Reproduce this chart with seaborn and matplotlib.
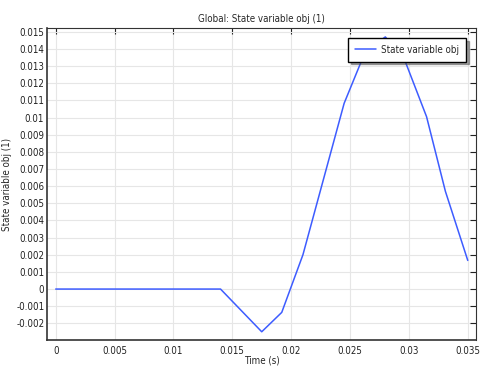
import matplotlib
matplotlib.use("Agg")
import matplotlib.pyplot as plt
import seaborn as sns
import pandas as pd
import numpy as np

time_s = [0.0, 0.014, 0.0175, 0.0192, 0.021, 0.0245, 0.0263, 0.028, 0.0297, 0.0315, 0.0331, 0.035]
obj = [0.0, 0.0, -0.00249, -0.00136, 0.0020, 0.01083, 0.01385, 0.0147, 0.01325, 0.01005, 0.0057, 0.00167]
x_ticks = [0, 0.005, 0.01, 0.015, 0.02, 0.025, 0.03, 0.035]
x_tick_labels = ["0", "0.005", "0.01", "0.015", "0.02", "0.025", "0.03", "0.035"]
y_ticks = [-0.002, -0.001, 0, 0.001, 0.002, 0.003, 0.004, 0.005, 0.006, 0.007, 0.008,
           0.009, 0.01, 0.011, 0.012, 0.013, 0.014, 0.015]
y_tick_labels = ["-0.002", "-0.001", "0", "0.001", "0.002", "0.003", "0.004", "0.005", "0.006",
                 "0.007", "0.008", "0.009", "0.01", "0.011", "0.012", "0.013", "0.014", "0.015"]

sns.set_style("whitegrid")
plt.rcParams['font.family'] = ['DejaVu Sans']
plt.rcParams['font.stretch'] = 'condensed'

df = pd.DataFrame({"Time (s)": time_s, "State variable obj": obj})

fig = plt.figure(figsize=(4.85, 3.67), dpi=100)
ax = fig.add_axes([47/485, 1-340/367, (476-47)/485, (340-28)/367])

sns.lineplot(data=df, x="Time (s)", y="State variable obj", ax=ax, color="#3d5cff",
             linewidth=1.1, label="State variable obj", sort=False)

ax.set_xlim(-0.00074, 0.0357)
ax.set_ylim(-0.00297, 0.01522)
ax.set_xticks(x_ticks)
ax.set_xticklabels(x_tick_labels)
ax.set_yticks(y_ticks)
ax.set_yticklabels(y_tick_labels)

ax.grid(True, color="#e6e6e6", linewidth=0.8)
for side in ["left", "bottom", "top", "right"]:
    ax.spines[side].set_visible(True)
    ax.spines[side].set_color("#333333")
ax.spines["left"].set_linewidth(1.2)
ax.spines["bottom"].set_linewidth(1.2)
ax.spines["top"].set_linewidth(0.8)
ax.spines["right"].set_linewidth(0.8)

fs = 7
ax.tick_params(axis="both", which="major", direction="in", length=4, width=0.8,
               labelsize=fs, colors="#222222", top=True, right=True, pad=2)
ax.tick_params(axis="x", labeltop=False, pad=4)
ax.tick_params(axis="y", labelright=False)

ax.set_xlabel("Time (s)", fontsize=fs, labelpad=0)
ax.set_ylabel("State variable obj (1)", fontsize=fs, labelpad=3)
ax.set_title("Global: State variable obj (1)", fontsize=fs, pad=4)

leg = ax.legend(loc="upper right", fontsize=fs, frameon=True, fancybox=False, shadow=True,
                borderpad=0.7, handlelength=2.2, handletextpad=0.5, borderaxespad=0,
                bbox_to_anchor=(0.9767, 0.968))
leg.get_frame().set_edgecolor("#000000")
leg.get_frame().set_linewidth(1.0)

fig.savefig("out.png", dpi=100)
